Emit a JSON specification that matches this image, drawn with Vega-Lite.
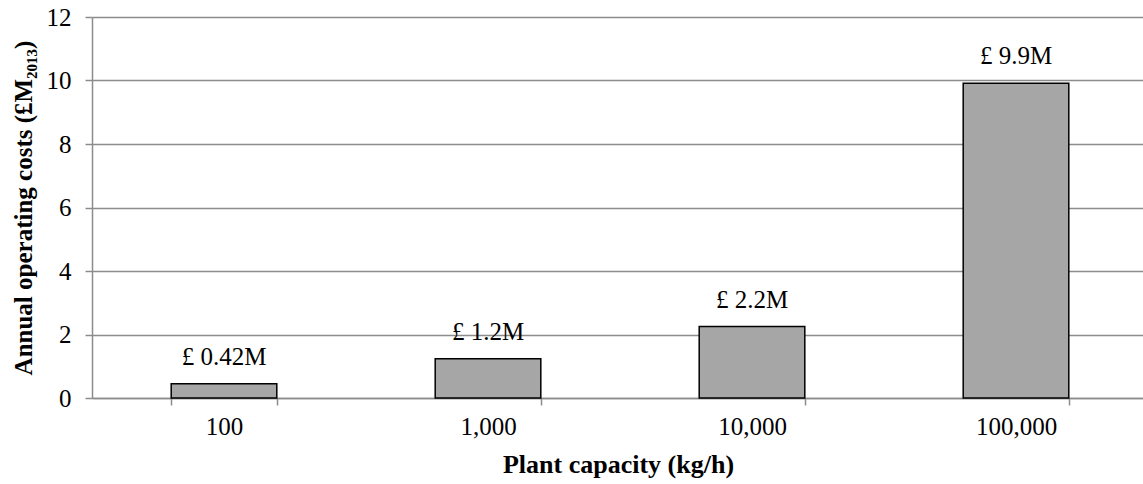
{
  "$schema": "https://vega.github.io/schema/vega-lite/v6.json",
  "width": 1056,
  "height": 381,
  "autosize": {"type": "none"},
  "padding": {"left": 92, "top": 17, "right": 0, "bottom": 86},
  "background": "white",
  "config": {
    "view": {"stroke": null},
    "font": "Liberation Serif",
    "axis": {"labelFont": "Liberation Serif", "titleFont": "Liberation Serif"},
    "text": {"font": "Liberation Serif"}
  },
  "data": {
    "values": [
      {"capacity": "100", "cost": 0.45, "label": "£ 0.42M"},
      {"capacity": "1,000", "cost": 1.24, "label": "£ 1.2M"},
      {"capacity": "10,000", "cost": 2.25, "label": "£ 2.2M"},
      {"capacity": "100,000", "cost": 9.91, "label": "£ 9.9M"}
    ]
  },
  "encoding": {
    "x": {
      "field": "capacity",
      "type": "nominal",
      "sort": null,
      "scale": {"paddingInner": 0.6, "paddingOuter": 0.3},
      "axis": {
        "title": "Plant capacity (kg/h)",
        "titleFontSize": 26,
        "titleFontWeight": "bold",
        "titleColor": "black",
        "titlePadding": 12,
        "titleX": 526,
        "labelAngle": 0,
        "labelFontSize": 25,
        "labelColor": "black",
        "labelPadding": 9,
        "tickBand": "extent",
        "tickSize": 7,
        "tickColor": "#8c8c8c",
        "domainColor": "#8c8c8c",
        "domainWidth": 1.5,
        "tickWidth": 1.5
      }
    },
    "y": {
      "field": "cost",
      "type": "quantitative",
      "scale": {"domain": [0, 12]},
      "axis": {
        "title": "Annual operating costs (£M₂₀₁₃)",
        "titleFontSize": 25,
        "titleFontWeight": "bold",
        "titleColor": "black",
        "titlePadding": 10,
        "values": [0, 2, 4, 6, 8, 10, 12],
        "labelFontSize": 25,
        "labelColor": "black",
        "labelPadding": 14,
        "tickSize": 7,
        "tickColor": "#8c8c8c",
        "tickWidth": 1.5,
        "domainColor": "#8c8c8c",
        "domainWidth": 1.5,
        "grid": true,
        "gridColor": "#8c8c8c",
        "gridWidth": 1.5
      }
    }
  },
  "layer": [
    {
      "mark": {"type": "bar", "color": "#a6a6a6", "stroke": "black", "strokeWidth": 1.5}
    },
    {
      "mark": {"type": "text", "baseline": "middle", "dy": -27, "fontSize": 25, "color": "black"},
      "encoding": {"text": {"field": "label"}}
    }
  ]
}
